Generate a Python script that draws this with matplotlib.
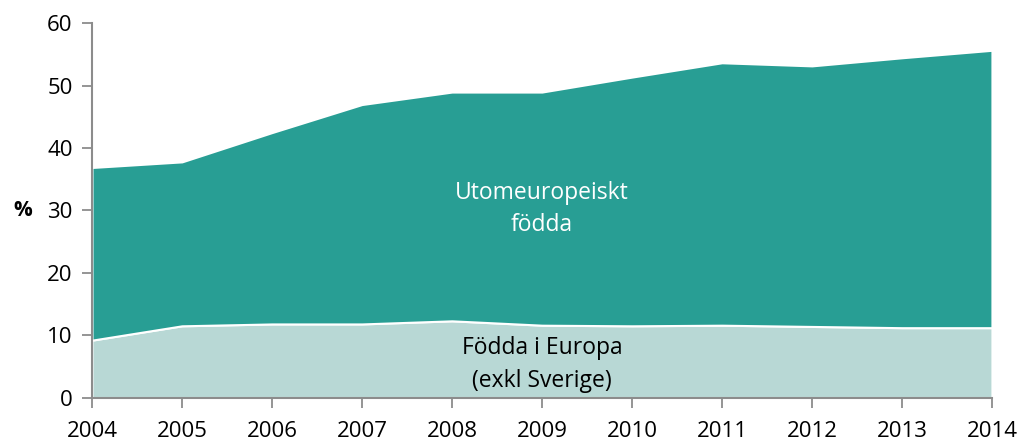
import matplotlib
matplotlib.use("Agg")
import matplotlib.pyplot as plt

years = [2004, 2005, 2006, 2007, 2008, 2009, 2010, 2011, 2012, 2013, 2014]
europa = [9.2, 11.5, 11.8, 11.8, 12.3, 11.6, 11.5, 11.6, 11.4, 11.2, 11.2]
totalt = [36.9, 37.8, 42.5, 47.0, 49.0, 49.0, 51.4, 53.7, 53.2, 54.5, 55.7]
utomeuropeiskt = [t - e for t, e in zip(totalt, europa)]
yticks = [0, 10, 20, 30, 40, 50, 60]

plt.rcParams['font.family'] = ['Open Sans', 'DejaVu Sans']

fig = plt.figure(figsize=(10.22, 4.43), dpi=100)
ax = fig.add_axes([0.090, 0.1027, 0.8806, 0.8443])

light = '#B8D8D5'
dark = '#289E94'
ax.stackplot(years, europa, utomeuropeiskt, colors=[light, dark],
             edgecolor='white', linewidth=1.5)

ax.set_xlim(years[0], years[-1])
ax.set_ylim(0, 60)
ax.set_xticks(years)
ax.set_yticks(yticks)
ax.tick_params(axis='both', labelsize=16, colors='#8c8c8c', labelcolor='black',
               length=7, width=1.3, direction='out')
ax.tick_params(axis='x', pad=10)
ax.tick_params(axis='y', pad=7)
for s in ['top', 'right']:
    ax.spines[s].set_visible(False)
for s in ['left', 'bottom']:
    ax.spines[s].set_color('#8c8c8c')
    ax.spines[s].set_linewidth(1.5)

ax.set_ylabel('%', rotation=0, fontsize=15, fontweight='bold', va='center')
ax.yaxis.set_label_coords(-0.077, 0.5)

ax.text(2009, 30.2, 'Utomeuropeiskt\nfödda', color='white', fontsize=16.5,
        ha='center', va='center', linespacing=1.45)
ax.text(2009, 5.3, 'Födda i Europa\n(exkl Sverige)', color='black', fontsize=16.5,
        ha='center', va='center', linespacing=1.45)

fig.savefig('out.png', dpi=100)
